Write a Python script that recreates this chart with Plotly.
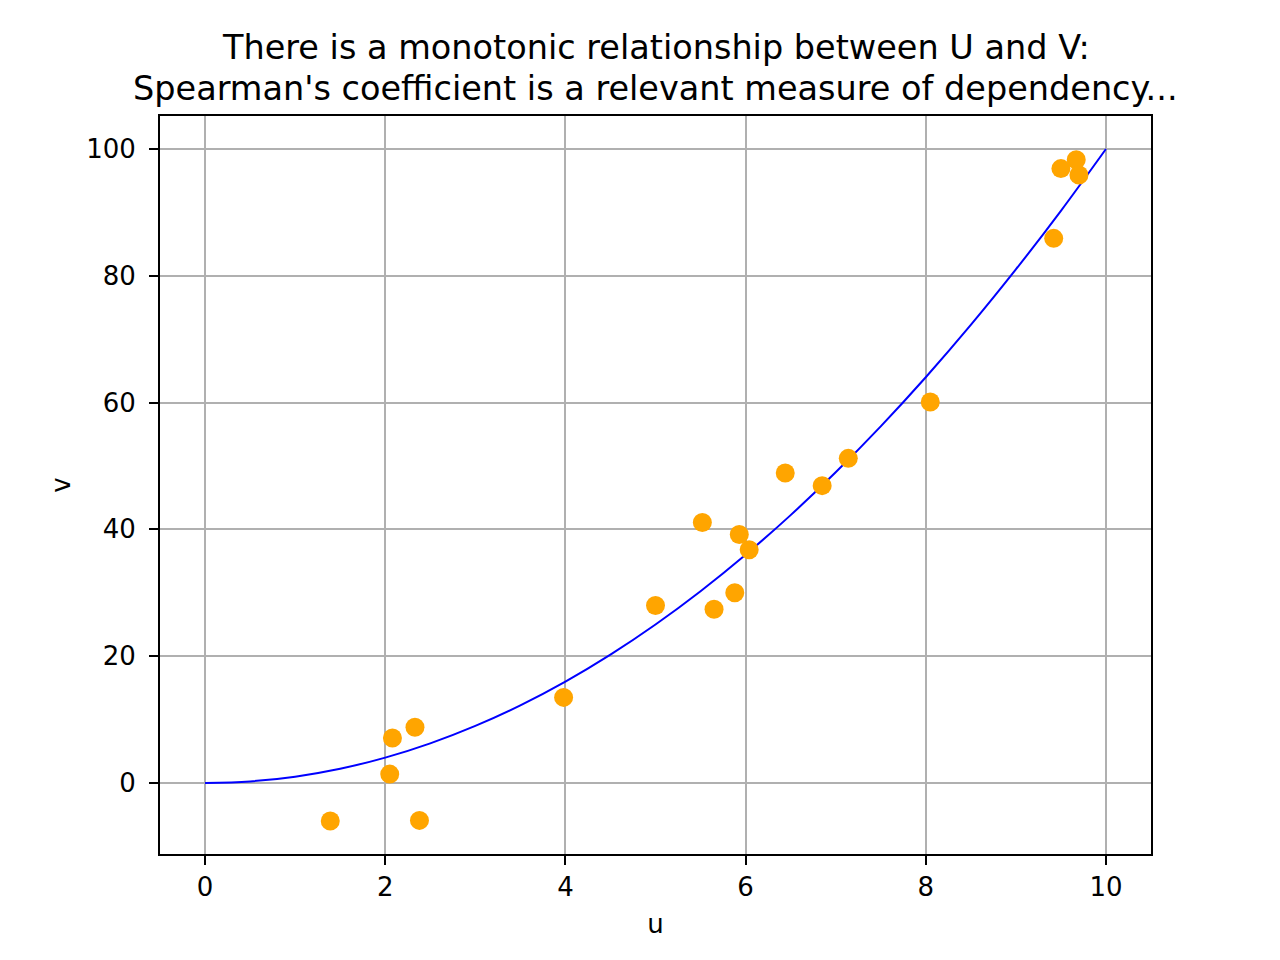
import plotly.graph_objects as go

# observed samples
u_obs = [1.39, 2.05, 2.08, 2.33, 2.38, 3.98, 5.00, 5.52, 5.65, 5.88,
         5.93, 6.04, 6.44, 6.85, 7.14, 8.05, 9.42, 9.50, 9.67, 9.70]
v_obs = [-6.0, 1.4, 7.1, 8.8, -5.9, 13.5, 28.0, 41.1, 27.4, 30.0,
         39.2, 36.8, 48.9, 46.9, 51.2, 60.1, 85.9, 96.9, 98.3, 95.9]

# underlying curve
u_curve = [0, 0.5, 1, 1.5, 2, 2.5, 3, 3.5, 4, 4.5, 5, 5.5, 6, 6.5, 7,
           7.5, 8, 8.5, 9, 9.5, 10]
v_curve = [0, 0.25, 1, 2.25, 4, 6.25, 9, 12.25, 16, 20.25, 25, 30.25, 36,
           42.25, 49, 56.25, 64, 72.25, 81, 90.25, 100]

x_ticks = [0, 2, 4, 6, 8, 10]
y_ticks = [0, 20, 40, 60, 80, 100]

title_lines = ["There is a monotonic relationship between U and V:",
               "Spearman's coefficient is a relevant measure of dependency..."]

FONT = 'DejaVu Sans'

fig = go.Figure()
fig.add_trace(go.Scatter(
    x=u_curve, y=v_curve, mode='lines',
    line=dict(color='blue', width=2, shape='spline'),
    showlegend=False,
))
fig.add_trace(go.Scatter(
    x=u_obs, y=v_obs, mode='markers',
    marker=dict(color='orange', size=19, line=dict(width=0)),
    showlegend=False,
))

axis_common = dict(
    showgrid=True, gridcolor='#b0b0b0', gridwidth=1.6,
    showline=True, linecolor='black', linewidth=2, mirror=True,
    ticks='outside', ticklen=9, tickwidth=2, tickcolor='black',
    tickfont=dict(family=FONT, size=26, color='black'),
    zeroline=False,
)

fig.update_xaxes(range=[-0.5, 10.5], tickvals=x_ticks,
                 title=dict(text='u', font=dict(family=FONT, size=26, color='black'), standoff=14),
                 **axis_common)
fig.update_yaxes(range=[-11.2, 105.2], tickvals=y_ticks, ticklabelstandoff=8,
                 title=dict(text='v', font=dict(family=FONT, size=26, color='black'), standoff=8),
                 **axis_common)

# two title lines placed separately to match the tighter line spacing
plot_h = 960 - 108 - 114
for i, line in enumerate(title_lines):
    fig.add_annotation(
        text=line, xref='paper', yref='paper',
        x=0.5, xanchor='center',
        y=1 + (68 - 40 * i) / plot_h, yanchor='middle',
        showarrow=False,
        font=dict(family=FONT, size=33.5, color='black'),
    )

fig.update_layout(
    width=1280, height=960,
    margin=dict(l=152, r=137, t=108, b=114),
    plot_bgcolor='white', paper_bgcolor='white',
    font=dict(family=FONT, color='black'),
)

fig.write_html("out.html")
